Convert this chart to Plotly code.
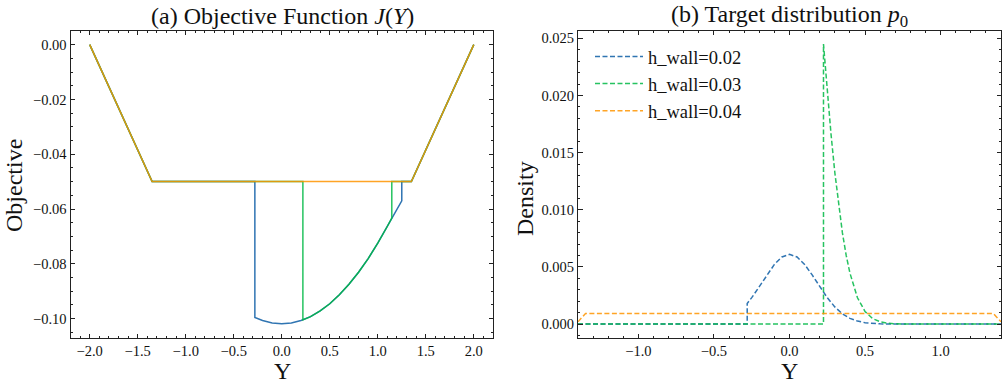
import plotly.graph_objects as go

# ---------------- data: panel (a) objective J(Y) ----------------
y_blue_a = [-2.0, -1.35, -0.28, -0.28, -0.2, -0.1, 0.0, 0.1, 0.2, 0.3, 0.4, 0.5,
            0.6, 0.7, 0.8, 0.9, 1.0, 1.1, 1.2, 1.25, 1.25, 1.35, 2.0]
j_blue = [0.0, -0.05, -0.05, -0.0996, -0.1007, -0.1016, -0.1019, -0.1016, -0.1007,
          -0.0993, -0.0972, -0.0946, -0.0913, -0.0875, -0.0831, -0.0781, -0.0725,
          -0.0663, -0.0596, -0.057, -0.05, -0.05, 0.0]
y_green_a = [-2.0, -1.35, 0.22, 0.22, 0.3, 0.4, 0.5, 0.6, 0.7, 0.8, 0.9, 1.0,
             1.1, 1.146, 1.146, 1.35, 2.0]
j_green = [0.0, -0.05, -0.05, -0.1005, -0.0993, -0.0972, -0.0946, -0.0913, -0.0875,
           -0.0831, -0.0781, -0.0725, -0.0663, -0.0633, -0.05, -0.05, 0.0]
y_orange_a = [-2.0, -1.35, 1.35, 2.0]
j_orange = [0.0, -0.05, -0.05, 0.0]

# ---------------- data: panel (b) target density p0 ----------------
y_blue_b = [-1.4, -0.28, -0.28, -0.25, -0.2, -0.15, -0.1, -0.05, 0.0, 0.05, 0.1,
            0.15, 0.2, 0.25, 0.3, 0.35, 0.4, 0.45, 0.5, 0.55, 0.6, 0.7, 1.0, 1.4]
p_blue = [0.0, 0.0, 0.0018, 0.00231, 0.00327, 0.0043, 0.00522, 0.00587, 0.0061,
          0.00587, 0.00522, 0.0043, 0.00327, 0.00231, 0.0015, 0.0009, 0.0005,
          0.00026, 0.00012, 0.00005, 0.00002, 0.0, 0.0, 0.0]
y_green_b = [-1.4, 0.225, 0.225, 0.25, 0.275, 0.3, 0.325, 0.35, 0.375, 0.4, 0.45,
             0.5, 0.55, 0.6, 0.65, 0.7, 0.8, 1.4]
p_green = [0.0, 0.0, 0.0245, 0.0204, 0.0166, 0.01326, 0.0104, 0.0080, 0.00603,
           0.00446, 0.0023, 0.0011, 0.00048, 0.0002, 0.000075, 0.000026, 0.0, 0.0]
y_orange_b = [-1.4, -1.35, 1.35, 1.4]
p_orange = [0.0002, 0.00092, 0.00092, 0.0002]

labels = ["h_wall=0.02", "h_wall=0.03", "h_wall=0.04"]
colors = ["#0C5DA5", "#00B945", "#FF9500"]

W, H = 1005, 385
FONT = "Liberation Serif"


def px_x(p):
    return p / W


def px_y(p):
    return 1 - p / H


fig = go.Figure()

for xs, ys, c in [(y_blue_a, j_blue, colors[0]), (y_green_a, j_green, colors[1]),
                  (y_orange_a, j_orange, colors[2])]:
    fig.add_trace(go.Scatter(x=xs, y=ys, mode="lines", line=dict(color=c, width=1.5),
                             opacity=0.85, showlegend=False, xaxis="x", yaxis="y"))

for i, (xs, ys) in enumerate([(y_blue_b, p_blue), (y_green_b, p_green),
                              (y_orange_b, p_orange)]):
    fig.add_trace(go.Scatter(x=xs, y=ys, mode="lines", name=labels[i],
                             legendgroup=f"g{i}",
                             line=dict(color=colors[i], width=1.5, dash="5px,2.5px"),
                             opacity=0.85, xaxis="x2", yaxis="y2"))

axis_common = dict(showline=True, linecolor="#222", linewidth=1, mirror="allticks",
                   ticks="inside", ticklen=4.5, tickwidth=1, tickcolor="#222",
                   showgrid=False, zeroline=False,
                   tickfont=dict(family=FONT, size=14.5, color="#111"))
minor_common = dict(ticks="inside", ticklen=2.3, tickcolor="#222", tick0=0)

fig.update_layout(
    width=W, height=H,
    margin=dict(l=0, r=0, t=0, b=0),
    paper_bgcolor="white", plot_bgcolor="white",
    font=dict(family=FONT, color="#111"),
    xaxis=dict(domain=[px_x(70.5), px_x(493)], range=[-2.2, 2.2], tick0=0, dtick=0.5,
               tickformat=".1f", anchor="y", minor=dict(dtick=0.1, **minor_common),
               **axis_common),
    yaxis=dict(domain=[px_y(338), px_y(30.7)], range=[-0.1071, 0.0051], tick0=0,
               dtick=0.02, tickformat=".2f", anchor="x",
               minor=dict(dtick=0.005, **minor_common), **axis_common),
    xaxis2=dict(domain=[px_x(578), px_x(1001)], range=[-1.4, 1.4], tick0=0, dtick=0.5,
                tickformat=".1f", anchor="y2", minor=dict(dtick=0.1, **minor_common),
                **axis_common),
    yaxis2=dict(domain=[px_y(338), px_y(30.7)], range=[-0.00122, 0.02567], tick0=0,
                dtick=0.005, tickformat=".3f", anchor="x2",
                minor=dict(dtick=0.001, **minor_common), **axis_common),
    legend=dict(x=px_x(590), y=px_y(38), xanchor="left", yanchor="top",
                bgcolor="rgba(0,0,0,0)", borderwidth=0, itemwidth=48,
                font=dict(family=FONT, size=18.5, color="#111"),
                traceorder="grouped", tracegroupgap=0),
)

annotations = [
    dict(text="(a) Objective Function <i>J</i>(<i>Y</i>)", x=px_x(282), y=px_y(16),
         font=dict(size=24)),
    dict(text="(b) Target distribution <i>p</i><sub>0</sub>", x=px_x(789), y=px_y(16),
         font=dict(size=24)),
    dict(text="Y", x=px_x(282), y=px_y(371), font=dict(size=24)),
    dict(text="Y", x=px_x(789), y=px_y(371), font=dict(size=24)),
    dict(text="Objective", x=px_x(14), y=px_y(186), font=dict(size=24), textangle=-90),
    dict(text="Density", x=px_x(525), y=px_y(199), font=dict(size=24), textangle=-90),
]
for a in annotations:
    a.update(xref="paper", yref="paper", showarrow=False, xanchor="center",
             yanchor="middle")
    a["font"].update(family=FONT, color="#111")
fig.update_layout(annotations=annotations)

# remove the default page margin so the figure fills the window exactly
fig.write_html("out.html", config={"displayModeBar": False},
               post_script="document.body.style.margin='0px';")
